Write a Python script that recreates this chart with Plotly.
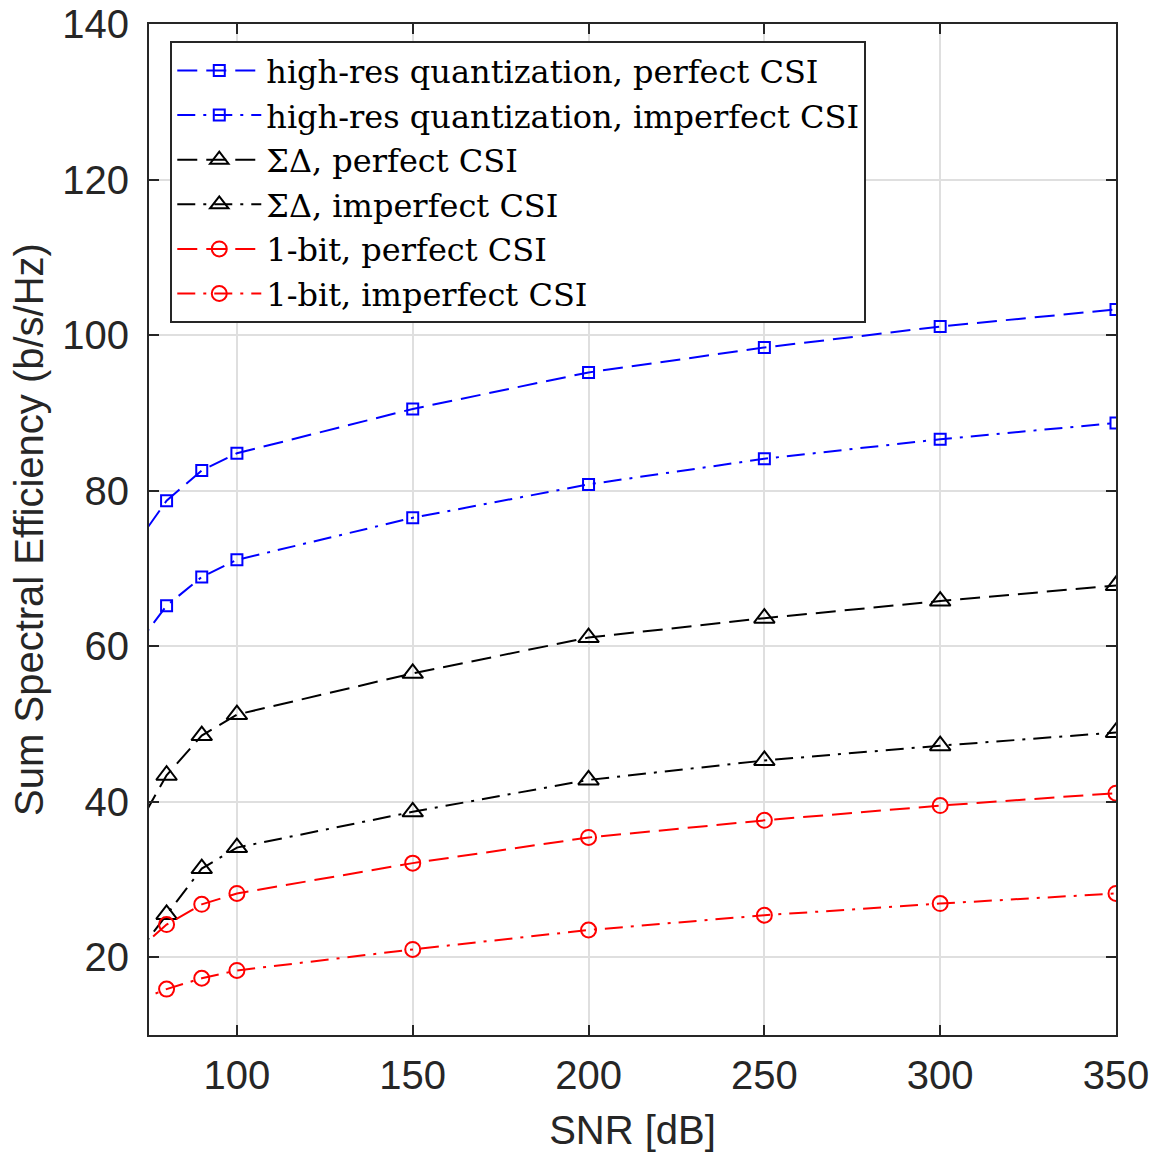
import plotly.graph_objects as go

snr = [70, 80, 90, 100, 150, 200, 250, 300, 350]

hr_perfect = [72.3, 78.7, 82.6, 84.8, 90.5, 95.2, 98.4, 101.1, 103.3]
hr_imperfect = [59.2, 65.2, 68.9, 71.1, 76.5, 80.8, 84.1, 86.6, 88.7]
sd_perfect = [35.4, 43.4, 48.5, 51.2, 56.5, 61.1, 63.6, 65.8, 67.8]
sd_imperfect = [19.5, 25.5, 31.4, 34.1, 38.7, 42.8, 45.3, 47.2, 48.9]
ob_perfect = [20.2, 24.2, 26.8, 28.2, 32.1, 35.4, 37.6, 39.5, 41.1]
ob_imperfect = [14.1, 15.9, 17.3, 18.3, 21.0, 23.5, 25.4, 26.9, 28.2]

names = [
    "high-res quantization, perfect CSI",
    "high-res quantization, imperfect CSI",
    "ΣΔ, perfect CSI",
    "ΣΔ, imperfect CSI",
    "1-bit, perfect CSI",
    "1-bit, imperfect CSI",
]
series = [hr_perfect, hr_imperfect, sd_perfect, sd_imperfect, ob_perfect, ob_imperfect]
colors = ["#0000FF", "#0000FF", "#000000", "#000000", "#FF0000", "#FF0000"]
dashes = ["20px,9px", "18px,8px,3px,8px"] * 3
symbols = ["square-open", "square-open", "triangle-up-open", "triangle-up-open",
           "circle-open", "circle-open"]
sizes = [11, 11, 18, 18, 15, 15]

fig = go.Figure()
for name, ys, c, d, s, sz in zip(names, series, colors, dashes, symbols, sizes):
    fig.add_trace(go.Scatter(
        x=snr, y=ys, name=name, mode="lines+markers",
        line=dict(color=c, width=2, dash=d),
        marker=dict(symbol=s, size=sz, color=c, line=dict(color=c, width=2)),
        cliponaxis=True,
    ))

axis_common = dict(
    showline=True, linecolor="#262626", linewidth=2, mirror="ticks",
    ticks="inside", ticklen=10, tickwidth=2, tickcolor="#262626",
    showgrid=True, gridcolor="#DFDFDF", gridwidth=2, zeroline=False,
    automargin=False, ticklabeloverflow="allow",
    tickfont=dict(family="Liberation Sans, Arial", size=40, color="#262626"),
    title_font=dict(family="Liberation Sans, Arial", size=40, color="#262626"),
)

fig.update_layout(
    width=1154, height=1154,
    paper_bgcolor="white", plot_bgcolor="white",
    margin=dict(l=149, r=38, t=24, b=119),
    xaxis=dict(range=[75, 350], tickvals=[100, 150, 200, 250, 300, 350],
               ticklabelstandoff=4,
               title=dict(text="SNR [dB]", standoff=20), **axis_common),
    yaxis=dict(range=[10, 140], tickvals=[20, 40, 60, 80, 100, 120, 140],
               ticklabelstandoff=10,
               title=dict(text="Sum Spectral Efficiency (b/s/Hz)", standoff=6), **axis_common),
    legend=dict(
        x=0.022, y=0.983, xanchor="left", yanchor="top",
        bgcolor="white", bordercolor="#262626", borderwidth=2,
        font=dict(family="DejaVu Serif, serif", size=32, color="#000000"),
        itemwidth=84, tracegroupgap=0,
    ),
    showlegend=True,
)

fig.write_html("out.html",
               config={"displayModeBar": False},
               post_script="document.body.style.margin='0';document.body.style.overflow='hidden';")
